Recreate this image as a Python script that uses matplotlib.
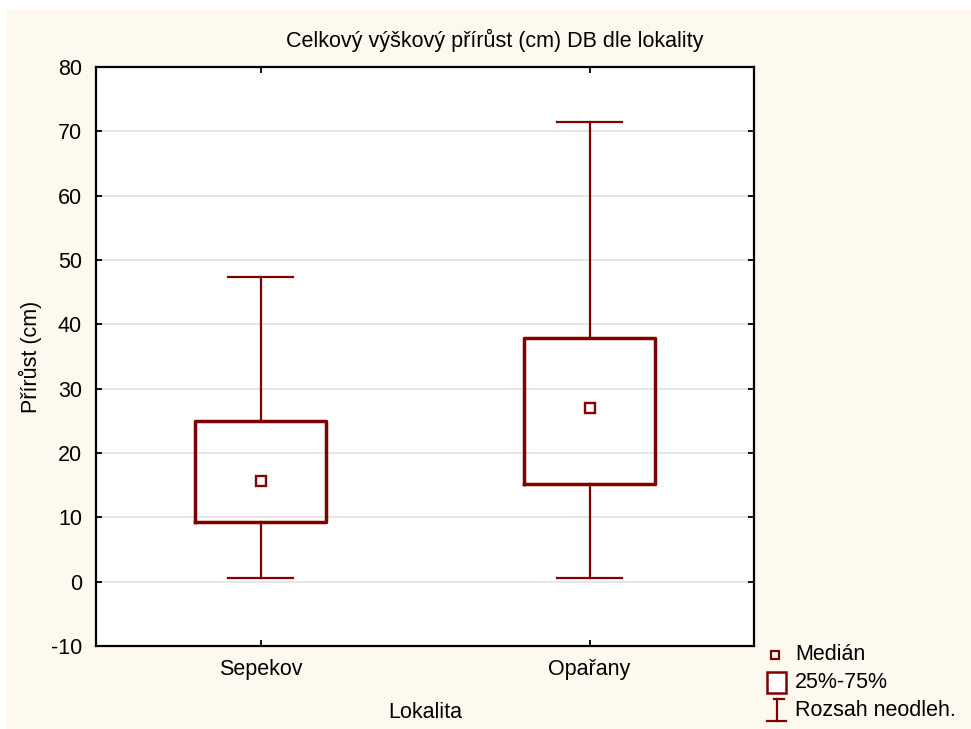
import numpy as np
import matplotlib.pyplot as plt
from matplotlib.patches import Rectangle
from matplotlib.lines import Line2D

# data
lokality = ["Sepekov", "Opařany"]
medians = [15.7, 27.0]
q1 = [9.3, 15.2]
q3 = [24.9, 37.9]
mins = [0.6, 0.6]
maxs = [47.3, 71.5]

dark_red = "#800000"
cream = "#fef9ef"

plt.rcParams['font.family'] = ['Liberation Sans', 'DejaVu Sans']
plt.rcParams['axes.unicode_minus'] = False
fs = 15.5

fig = plt.figure(figsize=(9.71, 7.29), dpi=100, facecolor="white")
# cream panel behind everything
fig.patches.append(Rectangle((7 / 971, 0), 1, 1 - 10 / 729, transform=fig.transFigure,
                             facecolor=cream, edgecolor="none", zorder=-10))

ax = fig.add_axes([96 / 971, 83 / 729, 658 / 971, 579 / 729])
ax.set_facecolor("white")

stats = []
for i in range(len(lokality)):
    stats.append(dict(label=lokality[i], med=medians[i], q1=q1[i], q3=q3[i],
                      whislo=mins[i], whishi=maxs[i], fliers=[]))

pos = np.arange(1, len(lokality) + 1)
ax.bxp(stats, positions=pos, widths=0.4, capwidths=0.195, showfliers=False,
       boxprops=dict(color=dark_red, linewidth=2.5),
       whiskerprops=dict(color=dark_red, linewidth=1.6),
       capprops=dict(color=dark_red, linewidth=1.6),
       medianprops=dict(linewidth=0), zorder=3)
ax.plot(pos, medians, linestyle="none", marker="s", markersize=7,
        markerfacecolor="white", markeredgecolor=dark_red, markeredgewidth=1.7, zorder=4)

ax.set_xlim(0.5, 2.5)
ax.set_ylim(-10, 80)
ax.set_yticks(np.arange(-10, 81, 10))
ax.set_xticks(pos)
ax.set_xticklabels(lokality)
ax.yaxis.grid(True, color="#e2e2e2", linewidth=1.2)
ax.set_axisbelow(True)
ax.tick_params(direction="in", length=4, width=1.3, labelsize=fs, colors="black",
               top=True, right=True)
ax.tick_params(axis="x", pad=9)
ax.tick_params(axis="y", pad=10)
for sp in ax.spines.values():
    sp.set_linewidth(1.6)
    sp.set_color("black")

ax.set_xlabel("Lokalita", fontsize=fs, va="center")
ax.set_ylabel("Přírůst (cm)", fontsize=fs, va="center")
ax.xaxis.set_label_coords(0.5, (646 - 712) / 579)
ax.yaxis.set_label_coords((30 - 96) / 658, 0.5)
fig.text(495 / 971, 1 - 40 / 729, "Celkový výškový přírůst (cm) DB dle lokality",
         ha="center", va="center", fontsize=fs)

# legend drawn by hand in figure pixels
def fx(x):
    return x / 971

def fy(y):
    return 1 - y / 729

fig.lines.append(Line2D([fx(775)], [fy(655)], transform=fig.transFigure, marker="s",
                        markersize=6, markerfacecolor="white", markeredgecolor=dark_red,
                        markeredgewidth=1.6, linestyle="none"))
fig.patches.append(Rectangle((fx(767), fy(693)), fx(786) - fx(767), fy(672) - fy(693),
                             transform=fig.transFigure, facecolor="white",
                             edgecolor=dark_red, linewidth=1.8))
for xs, ys in [([777, 777], [699, 721]), ([774, 784], [699, 699]), ([767, 786], [721, 721])]:
    fig.lines.append(Line2D([fx(v) for v in xs], [fy(v) for v in ys],
                            transform=fig.transFigure, color=dark_red, linewidth=1.6))
for y, t in [(655, "Medián"), (683, "25%-75%"), (710, "Rozsah neodleh.")]:
    fig.text(fx(795), fy(y), t, ha="left", va="center", fontsize=fs)

fig.savefig("out.png", dpi=100, facecolor=fig.get_facecolor())
